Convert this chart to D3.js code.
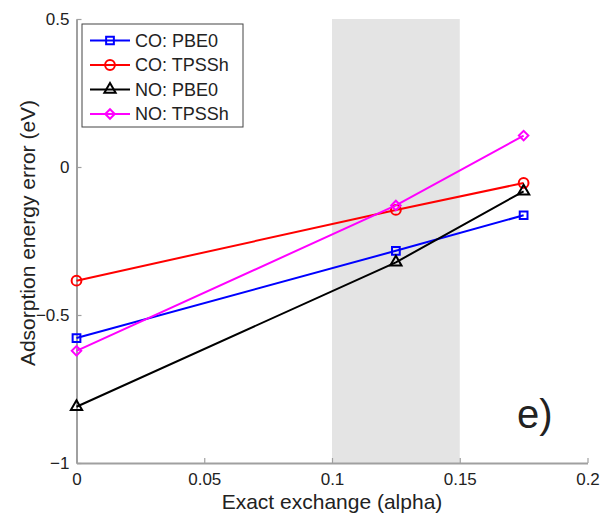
<!DOCTYPE html>
<html>
<head>
<meta charset="utf-8">
<script src="https://cdn.jsdelivr.net/npm/d3@7"></script>
<style>
  body { margin: 0; background: #fff; }
  text { font-family: "Liberation Sans", Arial, sans-serif; fill: #222; }
</style>
</head>
<body>
<div id="wrapper"></div>
<script>
// data
const alphas = [0, 0.125, 0.175];
const seriesNames = ["CO: PBE0", "CO: TPSSh", "NO: PBE0", "NO: TPSSh"];
const coPbe0 = [-0.578, -0.283, -0.163];
const coTpssh = [-0.384, -0.145, -0.054];
const noPbe0 = [-0.81, -0.322, -0.082];
const noTpssh = [-0.621, -0.130, 0.106];
const xTicks = [0, 0.05, 0.1, 0.15, 0.2];
const yTicks = [-1, -0.5, 0, 0.5];
const shadeRange = [0.1, 0.15];

// diamond = square turned 45 degrees
const series = [
  { name: seriesNames[0], values: coPbe0, color: "#0000ff", marker: d3.symbolSquare, size: 60, rot: 0 },
  { name: seriesNames[1], values: coTpssh, color: "#ff0000", marker: d3.symbolCircle, size: 75, rot: 0 },
  { name: seriesNames[2], values: noPbe0, color: "#000000", marker: d3.symbolTriangle, size: 55, rot: 0 },
  { name: seriesNames[3], values: noTpssh, color: "#ff00ff", marker: d3.symbolSquare, size: 45, rot: 45 },
];

const dimensions = {
  width: 604,
  height: 525,
  margin: { top: 19, right: 17, bottom: 62, left: 76.5 },
};

const svg = d3.select("#wrapper")
  .append("svg")
    .attr("width", dimensions.width)
    .attr("height", dimensions.height);

const bounds = svg.append("g")
  .attr("transform", `translate(${dimensions.margin.left},${dimensions.margin.top})`);

const xScale = d3.scaleLinear().domain([0, 0.2]).range([0, 511]);
const yScale = d3.scaleLinear().domain([-1, 0.5]).range([444, 0]);

// shaded band
bounds.append("rect")
  .attr("x", xScale(shadeRange[0]))
  .attr("width", xScale(shadeRange[1]) - xScale(shadeRange[0]))
  .attr("y", 0)
  .attr("height", yScale(-1))
  .attr("fill", "#e4e4e4");

// axes (ticks point inward)
const xAxis = bounds.append("g")
  .attr("transform", `translate(0,${yScale(-1)})`)
  .call(d3.axisBottom(xScale).tickValues(xTicks).tickSizeInner(-5).tickSizeOuter(0)
    .tickPadding(10).tickFormat(d3.format("")));
const yAxis = bounds.append("g")
  .call(d3.axisLeft(yScale).tickValues(yTicks).tickSizeInner(-5).tickSizeOuter(0)
    .tickPadding(7).tickFormat(d3.format("")));

[xAxis, yAxis].forEach(ax => {
  ax.select(".domain").attr("stroke", "#a0a0a0").attr("stroke-width", 2);
  ax.selectAll(".tick line").attr("stroke", "#a0a0a0").attr("stroke-width", 1.2);
  ax.selectAll(".tick text")
    .attr("font-size", 17)
    .attr("fill", "#222")
    .style("font-family", "'Liberation Sans', Arial, sans-serif");
});

// lines and markers
const lineGenerator = d3.line()
  .x((d, i) => xScale(alphas[i]))
  .y(d => yScale(d));

series.forEach(s => {
  bounds.append("path")
    .attr("d", lineGenerator(s.values))
    .attr("fill", "none")
    .attr("stroke", s.color)
    .attr("stroke-width", 2);
  bounds.selectAll(null)
    .data(s.values)
    .join("path")
      .attr("transform", (d, i) => `translate(${xScale(alphas[i])},${yScale(d)}) rotate(${s.rot})`)
      .attr("d", d3.symbol(s.marker, s.size))
      .attr("fill", "none")
      .attr("stroke", s.color)
      .attr("stroke-width", 2);
});

// legend
const legend = svg.append("g").attr("transform", "translate(82,24)");
legend.append("rect")
  .attr("width", 161).attr("height", 103)
  .attr("fill", "#fff").attr("stroke", "#444").attr("stroke-width", 1);
series.forEach((s, i) => {
  const y = 16.5 + i * 24.5;
  legend.append("line")
    .attr("x1", 8).attr("x2", 48).attr("y1", y).attr("y2", y)
    .attr("stroke", s.color).attr("stroke-width", 2);
  legend.append("path")
    .attr("transform", `translate(28,${y}) rotate(${s.rot})`)
    .attr("d", d3.symbol(s.marker, s.size))
    .attr("fill", "none").attr("stroke", s.color).attr("stroke-width", 2);
  legend.append("text")
    .attr("x", 53).attr("y", y).attr("dy", "0.35em")
    .attr("font-size", 18)
    .text(s.name);
});

// axis titles
svg.append("text")
  .attr("x", dimensions.margin.left + xScale(0.1))
  .attr("y", 509)
  .attr("text-anchor", "middle")
  .attr("font-size", 21)
  .text("Exact exchange (alpha)");
svg.append("text")
  .attr("transform", "translate(35,233) rotate(-90)")
  .attr("text-anchor", "middle")
  .attr("font-size", 21)
  .text("Adsorption energy error (eV)");

// panel label
svg.append("text")
  .attr("x", 517).attr("y", 428)
  .attr("font-size", 40)
  .text("e)");
</script>
</body>
</html>
